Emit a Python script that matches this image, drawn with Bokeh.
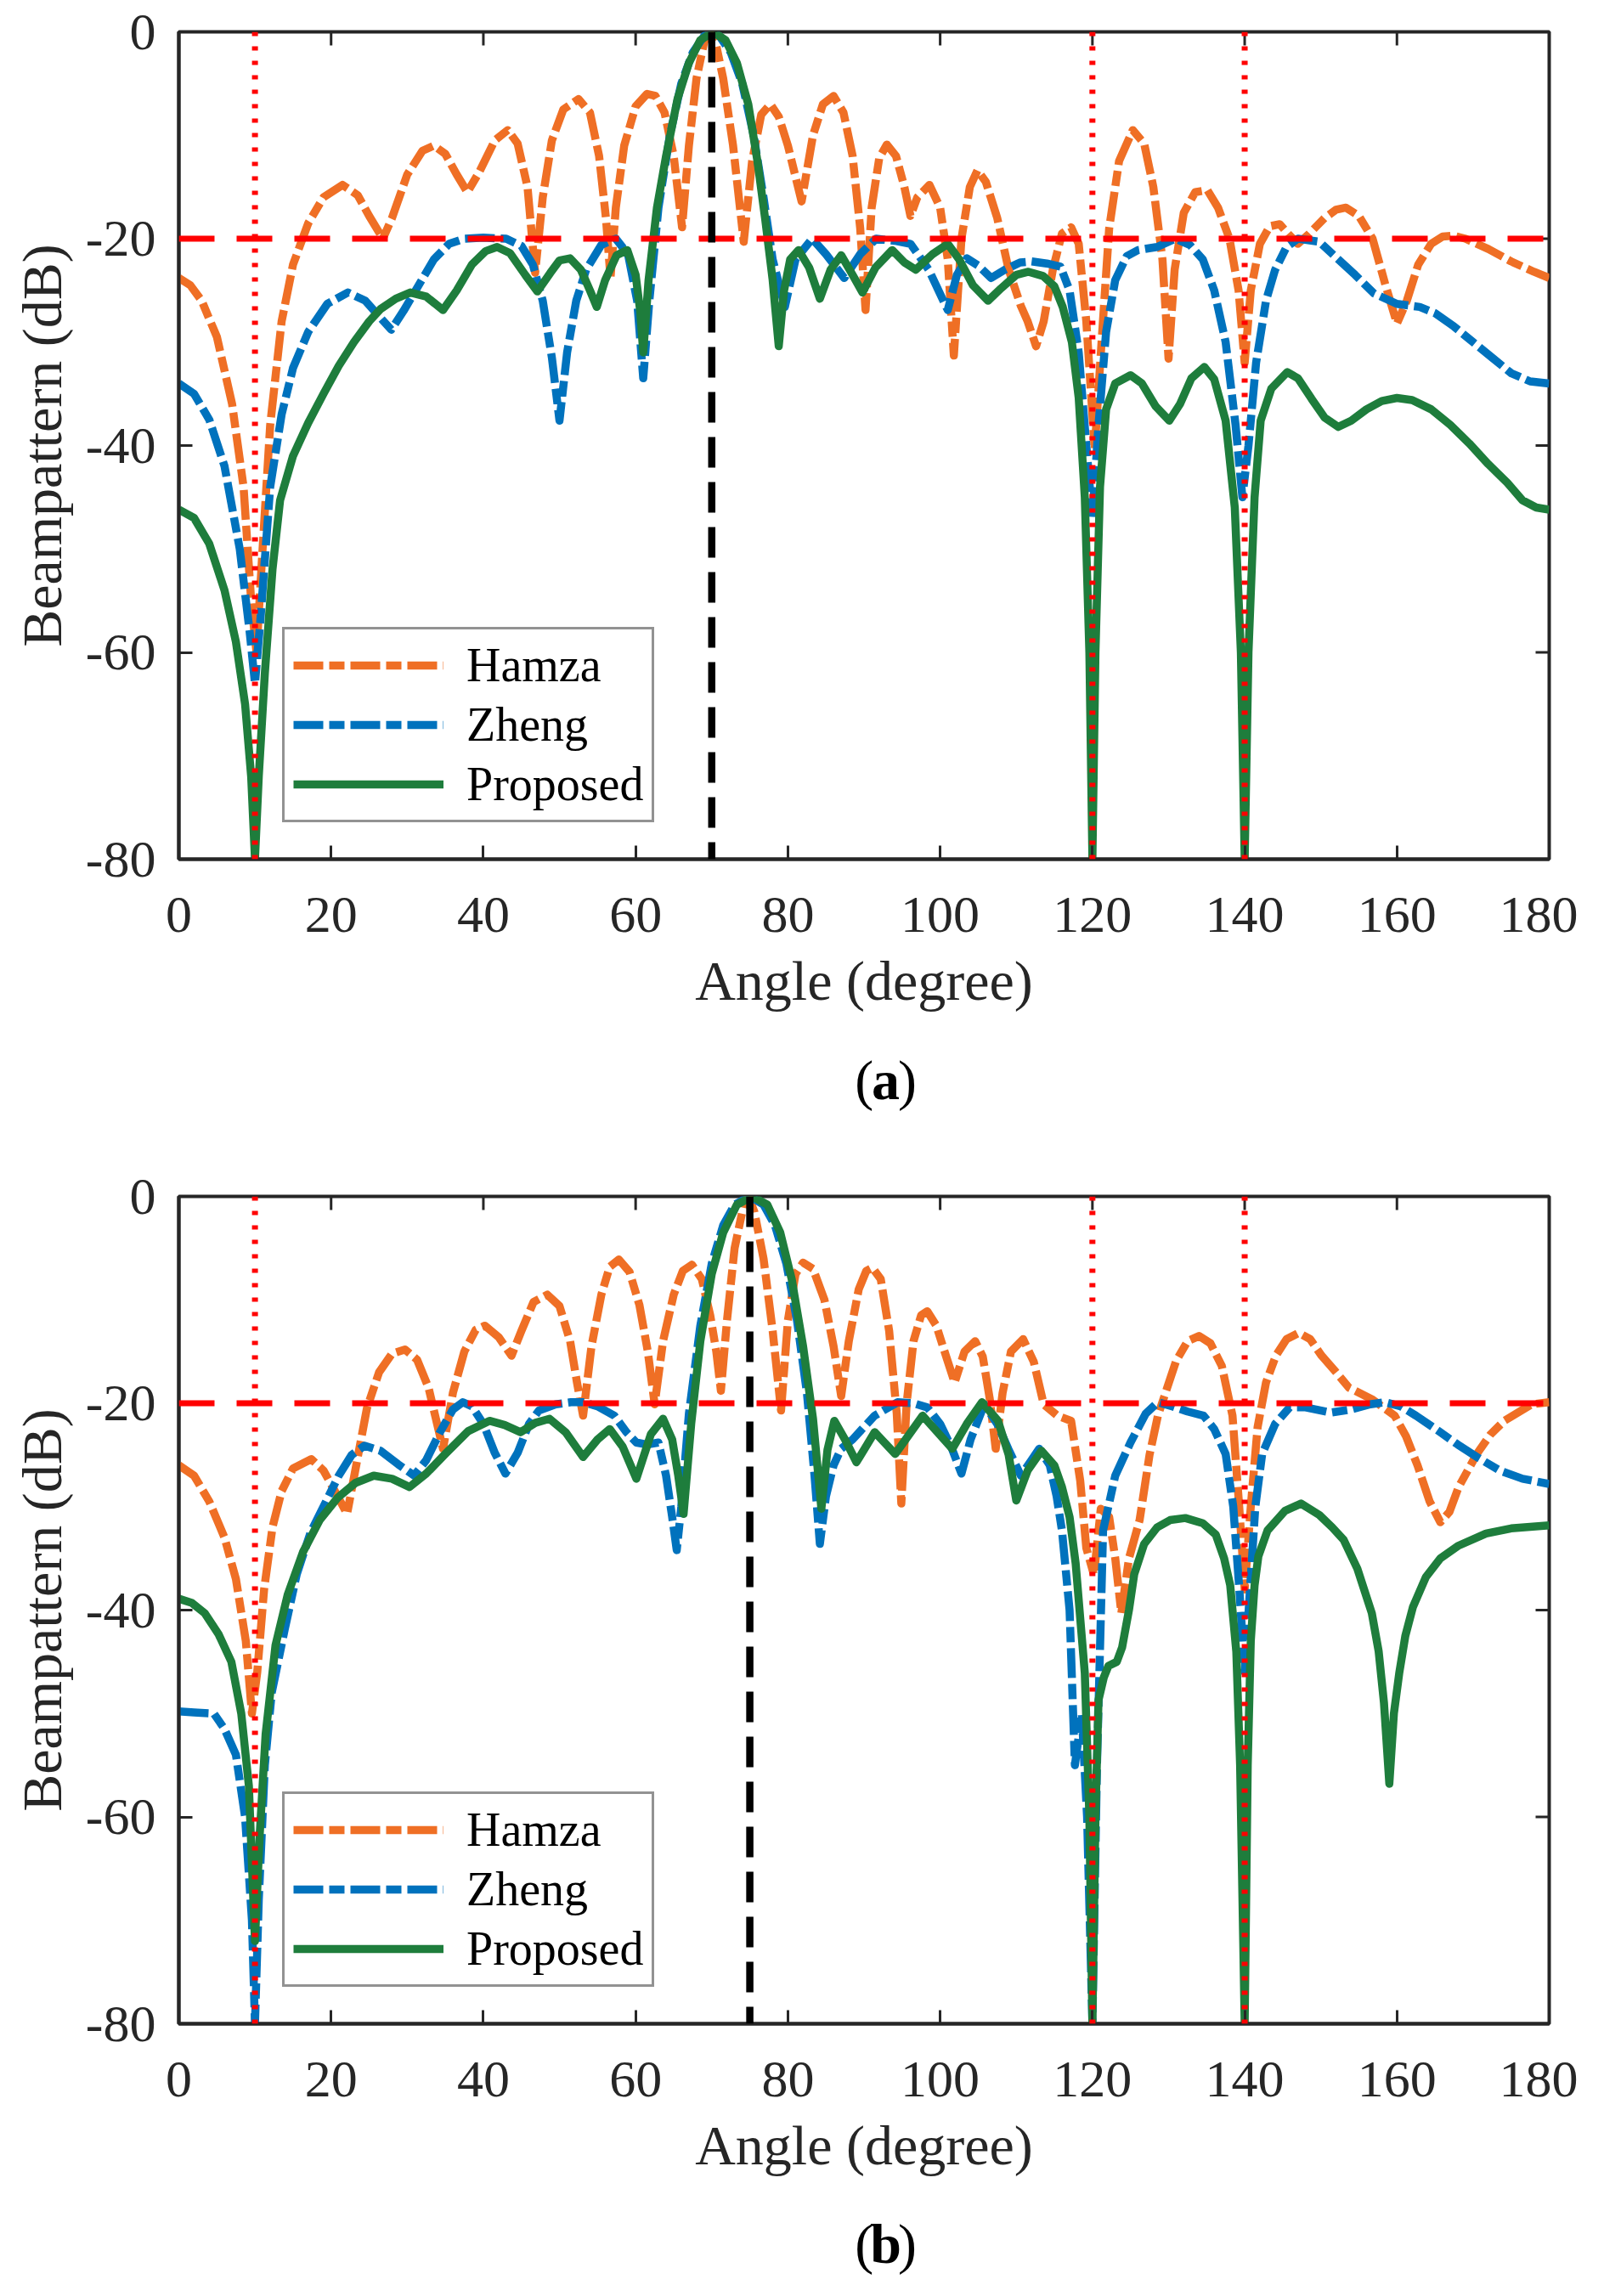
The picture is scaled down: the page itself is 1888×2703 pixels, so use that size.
from bokeh.plotting import figure
from bokeh.models import Range1d, FixedTicker, Span
from bokeh.core.properties import value
from bokeh.layouts import column
from bokeh.embed import file_html
from bokeh.resources import INLINE

# ---------------- data ----------------
angle_ticks = [0, 20, 40, 60, 80, 100, 120, 140, 160, 180]
angle_tick_labels = ["0", "20", "40", "60", "80", "100", "120", "140", "160", "180"]
db_ticks = [-80, -60, -40, -20, 0]
db_tick_labels = ["-80", "-60", "-40", "-20", "0"]
series_names = ["Hamza", "Zheng", "Proposed"]
captions = ["a", "b"]
target_angles = [70, 75]
interference_angles = [10, 120, 140]
threshold_db = -20

# panel (a): (angle in degree, beampattern in dB)
a_hamza = [(0, -23.8), (1.5, -24.5), (3, -26), (5, -29.5), (7, -36), (8.5, -44), (9.5, -55), (10.2, -60),
           (11, -50), (12, -38), (13.5, -28), (15, -22.5), (17, -18.5), (19, -16), (21.5, -14.8), (23.5, -15.8),
           (25, -17.8), (26.8, -20), (28, -18), (30, -13.8), (32, -11.5), (33.5, -11), (35, -11.8), (36.5, -13.8),
           (37.9, -15.5), (39.5, -13.5), (41.5, -10.5), (43.2, -9.5), (44.5, -10.8), (45.8, -15), (46.8, -23.3),
           (47.8, -16), (49, -10.5), (50.5, -7.5), (52.5, -6.5), (54, -7.8), (55.2, -12), (56.1, -18), (56.7, -23.8),
           (57.4, -17), (58.5, -11), (60, -7.2), (61.5, -6), (62.6, -6.2), (63.8, -7.8), (65, -12), (66.1, -18.9),
           (67, -11), (68, -4.5), (69, -1), (69.7, 0), (70.5, -1), (71.5, -4.5), (72.8, -11), (74.2, -20.3),
           (75.3, -12.5), (76.5, -8), (77.7, -7), (78.8, -8.2), (80, -11), (81.8, -16.4), (83.3, -10), (84.6, -7),
           (86, -6.2), (87.3, -7.8), (88.5, -12), (89.5, -19), (90.2, -26.9), (91, -17), (92, -12.2), (93, -10.9),
           (94.2, -12), (95.3, -15), (96.1, -17.8), (97, -16), (98.6, -14.8), (100, -17), (101, -22), (101.8, -31.3),
           (102.8, -20), (103.9, -15), (104.9, -13.4), (106, -14.5), (107.5, -18), (109, -23), (110.6, -26.5),
           (111.5, -28), (112.6, -30.4), (113.6, -28), (114.8, -23), (116, -19.5), (117.2, -18.9), (118.2, -20.5),
           (119.2, -28), (120.3, -40.4), (121.2, -30), (122.2, -19), (123.5, -12.5), (125.3, -9.5), (126.8, -10.8),
           (128, -15), (129.2, -22), (130, -31.6), (130.8, -23), (132, -17.5), (133.5, -15.5), (135.1, -15.3),
           (136.5, -17), (138, -20), (139.2, -25), (140, -32), (140.8, -25), (142, -20.5), (143.3, -18.8),
           (144.6, -18.6), (145.8, -19.6), (147, -20.5), (148.5, -19.5), (150.5, -18), (152, -17.2), (153.3, -17),
           (155, -17.8), (156.8, -20), (158.5, -24.5), (160, -28.2), (161.3, -26), (162.8, -22.5), (164.5, -20.5),
           (166, -19.8), (167.4, -19.7), (169, -20), (172, -21), (175, -22.2), (178, -23.2), (180, -23.8)]

a_zheng = [(0, -34), (2, -35), (4, -37.5), (6, -42), (8, -50), (9.3, -58), (10, -63), (10.7, -57), (12, -44),
           (13.5, -37), (15, -32.5), (17, -29), (19.5, -26.3), (22.2, -25.2), (24.5, -26), (26.3, -27.5),
           (27.9, -28.8), (29.5, -27), (31.5, -24.5), (33.5, -22), (35.5, -20.5), (37.5, -20), (40, -19.9),
           (43, -20), (45, -20.7), (46.5, -22.5), (47.8, -26), (49, -31.5), (50, -37.6), (51, -31), (52.2, -26),
           (53.5, -23), (55.5, -20.6), (57.4, -20), (59, -21.5), (60.2, -26), (61, -33.5), (61.8, -26), (63, -17),
           (64.5, -10), (66, -5), (67.5, -2), (69, -0.4), (70, 0), (71, -0.4), (72.5, -2), (74, -5), (75.5, -10),
           (76.8, -16), (78, -22), (79.6, -26.6), (81, -22), (83.2, -20), (85, -21.5), (87.4, -23.8), (89.5, -21.5),
           (91.6, -20), (94, -20.2), (96.1, -20.5), (98.5, -23), (101, -26.9), (102.2, -23.5), (103.5, -21.9),
           (105, -22.6), (106.7, -23.8), (108.5, -23), (110.5, -22.3), (112, -22.2), (114, -22.4), (115.8, -22.7),
           (117, -25), (118.2, -31), (119.2, -40), (120, -47), (120.8, -38), (121.8, -29), (123, -24), (124.5, -21.7),
           (126, -21.1), (128.5, -20.8), (130.9, -20), (132.8, -20.6), (134.5, -22), (136, -25), (137.5, -30),
           (138.8, -38), (139.7, -45), (140.5, -40), (141.5, -32), (142.8, -26), (144, -23), (145.5, -20.8),
           (147, -20), (149.8, -20.3), (152, -21.8), (154.5, -23.5), (157, -25.3), (160, -26.3), (163, -26.6),
           (165, -27.2), (167.5, -28.5), (170, -30), (172.5, -31.5), (175, -33), (177.5, -33.8), (180, -34)]

a_proposed = [(0, -46.2), (2, -47), (4, -49.5), (6, -54), (7.5, -59), (8.7, -65), (9.5, -72), (10, -80),
              (10.5, -72), (11.3, -62), (12.3, -52), (13.3, -45.3), (15, -41), (17, -37.8), (19, -35), (21, -32.3),
              (23, -30), (25, -28), (26.5, -26.8), (28.5, -25.8), (30.4, -25.2), (32.5, -25.6), (34.7, -26.9),
              (36.5, -25), (38.5, -22.5), (40.3, -21.2), (41.8, -20.8), (43.5, -21.4), (45.5, -23.5), (47.1, -25.1),
              (48.8, -23.3), (50, -22.1), (51.4, -21.9), (52.8, -23), (54, -25), (54.9, -26.6), (56, -24),
              (57.5, -21.6), (58.9, -21.1), (60, -23.5), (60.6, -27), (61, -31), (61.7, -24), (62.8, -17), (64, -12),
              (65.5, -6.5), (67, -3), (68.5, -0.8), (70.2, 0), (71.8, -0.8), (73.3, -3), (74.8, -7), (76, -12.5),
              (77, -18), (78, -24), (78.8, -30.4), (79.5, -25), (80.3, -22), (81.4, -21.1), (82.8, -22.8),
              (84.2, -25.8), (85.6, -23), (87, -21.6), (88.5, -23.5), (89.8, -25.2), (91.5, -22.8), (93.7, -21.1),
              (95.3, -22.3), (96.8, -23), (99, -21.5), (101, -20.5), (102.5, -22), (104.3, -24.5), (106.3, -26),
              (108, -24.8), (110, -23.5), (111.6, -23.2), (113.5, -23.6), (115, -24.6), (116.1, -26.6), (117.3, -30),
              (118.2, -35.4), (119, -45), (119.6, -60), (120, -80), (120.4, -60), (121, -44), (121.8, -36.5),
              (123, -34), (125, -33.2), (126.5, -34), (128.3, -36.2), (130.1, -37.6), (131.5, -36), (133, -33.5),
              (134.7, -32.4), (136, -33.6), (137.5, -37.6), (138.7, -46), (139.5, -60), (140, -80), (140.5, -60),
              (141.3, -45), (142.1, -37.6), (143.5, -34.5), (145.6, -32.9), (147, -33.5), (148.8, -35.5),
              (150.5, -37.3), (152.3, -38.2), (154, -37.6), (156, -36.5), (158, -35.7), (160, -35.4), (162, -35.6),
              (164.5, -36.5), (167, -38), (169.5, -39.8), (172, -41.8), (174.5, -43.6), (176.5, -45.3), (178.3, -46),
              (180, -46.2)]

# panel (b)
b_hamza = [(0, -26), (2, -27), (4, -29.5), (6, -33), (7.5, -37), (8.8, -43), (9.6, -50), (10.3, -46), (11.2, -38),
           (12.3, -32), (13.5, -28.5), (15, -26.3), (17.4, -25.4), (19, -26.5), (20.5, -28.5), (22.1, -30.7),
           (23.3, -26), (24.7, -20.5), (26.3, -17), (28, -15.2), (29.7, -14.8), (31.3, -15.8), (32.8, -18.5),
           (34.7, -24.4), (36, -19), (37.5, -15), (39, -12.9), (40.2, -12.5), (42, -13.6), (43.7, -15.4), (45, -13),
           (46.6, -10.2), (48.4, -9.5), (50, -10.6), (51.4, -14), (52.3, -18), (53.1, -21.2), (54.2, -14.5),
           (55.5, -9.5), (56.6, -6.8), (57.8, -6.1), (59.2, -7.3), (60.5, -10.5), (61.6, -15), (62.5, -20.1),
           (63.6, -14), (65, -9.5), (66.2, -7.2), (67.4, -6.6), (68.7, -8), (69.8, -11.5), (70.6, -15), (71.2, -18.8),
           (72, -12), (73, -5), (74.2, -0.8), (74.8, 0), (75.6, -1.5), (76.8, -6), (78, -13), (79.1, -20.7),
           (80, -12), (81, -7.5), (82, -6.4), (83.3, -7), (84.8, -10), (86, -14.5), (87, -19.3), (88, -14),
           (89.3, -9), (90.3, -7.2), (91.1, -6.9), (92.2, -8), (93.3, -13), (94.3, -21), (94.9, -29.7), (95.6, -20),
           (96.5, -14), (97.5, -11.5), (98.3, -11.1), (99.5, -12.5), (100.8, -15.5), (101.9, -18), (103.2, -15),
           (104.6, -14), (105.6, -15.5), (106.5, -19.5), (107.3, -24.4), (108.2, -19), (109.3, -15), (110.9, -13.8),
           (112.3, -16), (113.6, -20.1), (115.4, -21.2), (117.2, -21.7), (118.4, -27.5), (119.2, -34),
           (120.2, -36.6), (121.1, -30.2), (122.2, -31), (123, -35), (123.8, -40.3), (124.8, -35), (126.2, -31.3),
           (127.5, -25), (128.6, -21.2), (131, -15.9), (132.5, -14), (134, -13.5), (135.5, -14.2), (137, -16.4),
           (138.4, -21.2), (139.3, -30.2), (140, -38), (140.8, -30), (141.7, -22.3), (142.8, -18), (144.1, -15.4),
           (145.5, -13.8), (147.1, -13.2), (148.6, -13.8), (150.1, -15.4), (152, -17), (153.7, -18.5),
           (156.7, -19.6), (159.7, -21.2), (161.2, -23.2), (162.7, -26), (164.3, -29.5), (165.7, -31.5),
           (166.9, -30.5), (168.1, -28.1), (170.5, -24.9), (172.3, -23), (174.1, -21.7), (177.7, -20.1), (180, -19.9)]

b_zheng = [(0, -49.8), (2, -49.9), (4.6, -50), (6, -51.5), (7.5, -54), (8.7, -60), (9.6, -70), (10, -80),
           (10.5, -68), (11.3, -55), (12.2, -48), (13.9, -41.9), (15.5, -36.5), (17.3, -32.5), (19.2, -29.7),
           (21, -27), (22.7, -25), (24.4, -24.1), (26.5, -24.6), (28.8, -25.9), (30.9, -27), (32.5, -25.5),
           (34.3, -22.8), (36, -20.6), (37.3, -19.9), (38.5, -20.3), (40, -22), (41.5, -24.8), (42.9, -26.8),
           (44.5, -24.8), (46, -22), (47.3, -20.7), (49.5, -20.1), (51.5, -19.9), (53.1, -19.9), (55, -20.3),
           (57.2, -21.2), (58.8, -22.8), (60.1, -23.8), (61.5, -24), (63, -23.8), (64, -27), (64.8, -31),
           (65.4, -34.2), (66, -30), (67, -21), (68.5, -12.5), (70, -6.5), (71.5, -2.8), (73, -0.8), (75, 0),
           (76.8, -0.8), (78.3, -2.8), (79.8, -6.5), (81.2, -12), (82.5, -19), (83.5, -27), (84.2, -33.6), (85, -29),
           (86, -26), (87, -24.4), (88.5, -23.5), (90, -22.3), (91.4, -21.2), (94.4, -19.9), (96.5, -20),
           (98.3, -20.4), (100, -22), (101.5, -24.3), (102.8, -26.8), (104, -23.5), (105.8, -20.1), (107.5, -22),
           (109, -24.5), (110.6, -27), (112, -25.5), (113, -24.4), (114.4, -26), (115.3, -29), (116, -32.3),
           (117, -40), (117.7, -55), (118.6, -50), (119.3, -60), (120, -80), (120.6, -55), (121.4, -32.3), (123, -27),
           (125, -23.8), (127, -21), (128.6, -19.9), (130.5, -20.3), (132.5, -20.8), (134.6, -21.2), (136, -22.5),
           (137.5, -24.9), (138.5, -30), (139.3, -38), (140, -46), (140.7, -38), (141.4, -30), (142.3, -24.9),
           (144, -22), (145.9, -20.4), (148, -20.4), (151.3, -20.9), (154, -20.6), (156.5, -20.1), (158.5, -19.9),
           (160.5, -20.3), (162.5, -21.2), (165.7, -22.8), (168, -24), (170.5, -25.2), (173.5, -26.5),
           (176.5, -27.3), (180, -27.8)]

b_proposed = [(0, -38.9), (1.7, -39.3), (3.4, -40.3), (5.2, -42.3), (6.9, -45), (8.2, -50), (9.2, -57), (10, -72),
              (10.6, -62), (11.4, -52), (12.7, -43.4), (14.3, -38.5), (16.3, -34.4), (18.5, -31.3), (20.9, -29.1),
              (23.2, -27.7), (25.6, -27), (28, -27.3), (30.3, -28.1), (32.5, -26.8), (35, -24.9), (38, -22.7),
              (40.8, -21.7), (42.8, -22.1), (44.9, -22.8), (46.8, -21.9), (48.7, -21.5), (50.8, -22.8),
              (53.1, -25.2), (55, -23.5), (56.6, -22.5), (58.3, -24.2), (60.1, -27.3), (62, -23), (63.6, -21.5),
              (64.8, -23.5), (65.6, -27), (66.3, -30.7), (67.3, -22), (68.5, -14), (70, -7.5), (71.5, -3.5),
              (73.3, -0.8), (75.3, 0), (77.3, -0.8), (79, -3.5), (80.5, -8), (82, -14.5), (83.3, -21.5),
              (84.4, -30.2), (85.2, -24.5), (86.1, -21.7), (87.5, -23.5), (89, -25.7), (91.4, -22.8), (94.1, -24.9),
              (97.7, -21.2), (101.6, -24.4), (103.5, -22), (105.5, -19.9), (107.6, -21.7), (109, -25), (110, -29.4),
              (111.5, -26.5), (113.3, -24.6), (115, -26), (116, -28.1), (117, -31), (117.8, -35.5), (119, -46.1),
              (119.6, -60), (120, -80), (120.4, -60), (120.8, -48.7), (121.5, -46.5), (122.1, -45.4), (123.2, -45),
              (123.9, -43.6), (124.8, -40), (125.5, -36.5), (126.8, -33.6), (128.5, -32), (130.2, -31.3),
              (132.2, -31.1), (134.5, -31.6), (136.2, -32.7), (137.3, -35), (138.1, -37.6), (138.9, -44),
              (139.4, -55), (140, -80), (140.4, -55), (140.8, -43), (141.3, -37.6), (141.8, -34.8), (143, -32.3),
              (145.3, -30.4), (147.4, -29.7), (149.8, -30.8), (151.5, -32), (153, -33.2), (154.8, -36),
              (156.7, -40.3), (157.6, -44), (158.3, -49), (159, -56.8), (159.6, -50), (160.3, -46.1), (161.1, -42.5),
              (162.1, -39.7), (163.8, -36.8), (165.7, -35), (168, -33.8), (171.7, -32.6), (175, -32.1), (180, -31.8)]

panels = [(a_hamza, a_zheng, a_proposed), (b_hamza, b_zheng, b_proposed)]

# ---------------- style / layout ----------------
FONT = "Liberation Serif"
AX = "#262626"
COLORS = ["#EF6F25", "#0072BD", "#1E7D3C"]
DASHES = ["35 7 18 7", "35 7 18 7", "solid"]
FRAME_W, FRAME_H = 1613, 974
BORDER_L, BORDER_R = 210, 34
FIG_W = BORDER_L + FRAME_W + BORDER_R
TICK_LEN = 16
TOPS = [37, 82]
BOTTOM = 215
CAP_H = [100, 95]
CAP_BASE = [45, 44]       # caption baseline anchor, px below top of caption strip
CAP_CX = 958              # caption centre anchor, px from left of caption strip


def make_panel(idx):
    p = figure(frame_width=FRAME_W, frame_height=FRAME_H,
               x_range=Range1d(0, 180), y_range=Range1d(-80, 0),
               output_backend="svg", toolbar_location=None,
               min_border_left=BORDER_L, min_border_right=BORDER_R,
               min_border_top=TOPS[idx], min_border_bottom=BOTTOM,
               background_fill_color="white", border_fill_color="white")
    p.grid.visible = False
    p.outline_line_color = AX
    p.outline_line_width = 4

    for ax in (p.xaxis[0], p.yaxis[0]):
        ax.axis_line_color = AX
        ax.axis_line_width = 4
        ax.major_tick_line_color = AX
        ax.major_tick_line_width = 3
        ax.major_tick_in = TICK_LEN
        ax.major_tick_out = 0
        ax.minor_tick_line_color = None
        ax.major_label_text_font = FONT
        ax.major_label_text_font_size = "62px"
        ax.major_label_text_color = AX
        ax.axis_label_text_font = FONT
        ax.axis_label_text_font_size = "66px"
        ax.axis_label_text_font_style = "normal"
        ax.axis_label_text_color = AX

    p.xaxis.ticker = FixedTicker(ticks=angle_ticks)
    p.xaxis.major_label_overrides = dict(zip(angle_ticks, angle_tick_labels))
    p.yaxis.ticker = FixedTicker(ticks=db_ticks)
    p.yaxis.major_label_overrides = dict(zip(db_ticks, db_tick_labels))
    p.xaxis.axis_label = "Angle (degree)"
    p.yaxis.axis_label = "Beampattern (dB)"
    p.xaxis.major_label_standoff = 45
    p.xaxis.axis_label_standoff = 18
    p.yaxis.major_label_standoff = 27
    p.yaxis.axis_label_standoff = 12

    # ticks on the top and right edges (box on)
    dy = TICK_LEN * 80 / FRAME_H
    dx = TICK_LEN * 180 / FRAME_W
    inner_x = angle_ticks[1:-1]
    inner_y = db_ticks[1:-1]
    p.segment(x0=inner_x, y0=[0] * len(inner_x), x1=inner_x, y1=[-dy] * len(inner_x),
              line_color=AX, line_width=3)
    p.segment(x0=[180] * len(inner_y), y0=inner_y, x1=[180 - dx] * len(inner_y), y1=inner_y,
              line_color=AX, line_width=3)

    for name, pts, col, dash in zip(series_names, panels[idx], COLORS, DASHES):
        xs = [a for a, _ in pts]
        ys = [d for _, d in pts]
        p.line(xs, ys, line_color=col, line_width=9.5, line_dash=dash,
               line_join="round", legend_label=name)

    p.add_layout(Span(location=threshold_db, dimension="width", line_color="#FF0000",
                      line_width=7, line_dash="42 26"))
    for ang in interference_angles:
        p.add_layout(Span(location=ang, dimension="height", line_color="#FF0000",
                          line_width=7, line_dash="5 12"))
    p.add_layout(Span(location=target_angles[idx], dimension="height", line_color="#000000",
                      line_width=8.5, line_dash="36 17"))

    lg = p.legend[0]
    lg.location = (122, 43)
    lg.label_text_font = FONT
    lg.label_text_font_size = "56px"
    lg.label_text_color = "#000000"
    lg.glyph_width = 177
    lg.glyph_height = 40
    lg.label_height = 40
    lg.label_standoff = 27
    lg.spacing = 6
    lg.padding = 10
    lg.margin = 0
    lg.border_line_color = AX
    lg.border_line_width = 3
    lg.background_fill_color = "white"
    lg.background_fill_alpha = 1.0
    return p


def make_caption(idx):
    h = CAP_H[idx]
    c = figure(width=FIG_W, height=h, x_range=Range1d(0, FIG_W), y_range=Range1d(0, h),
               output_backend="svg", toolbar_location=None, min_border=0,
               x_axis_location=None, y_axis_location=None,
               background_fill_color="white", border_fill_color="white")
    c.grid.visible = False
    c.outline_line_color = None
    base = h - CAP_BASE[idx]
    common = dict(y=[base], text_font=value(FONT), text_font_size="66px",
                  text_color="#000000", text_baseline="alphabetic")
    c.text(x=[CAP_CX - 16.5], text=["("], text_align="right", text_font_style="normal", **common)
    c.text(x=[CAP_CX], text=[captions[idx]], text_align="center", text_font_style="bold", **common)
    c.text(x=[CAP_CX + 16.5], text=[")"], text_align="left", text_font_style="normal", **common)
    return c


layout = column(make_panel(0), make_caption(0), make_panel(1), make_caption(1), spacing=0)
open("out.html", "w").write(file_html(layout, INLINE))
